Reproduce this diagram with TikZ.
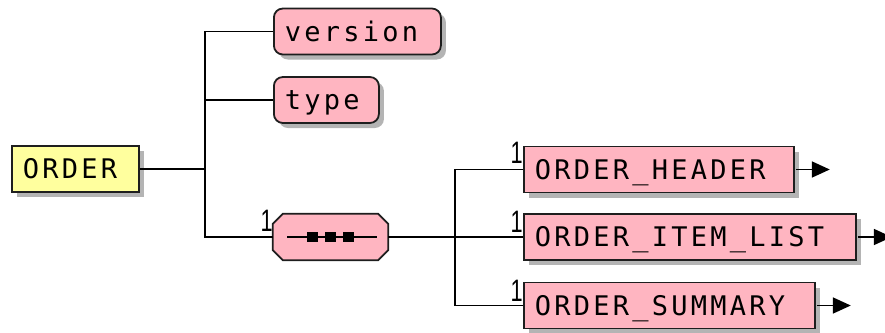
\documentclass[tikz,border=0pt]{standalone}
\usepackage{fontspec}
\usetikzlibrary{arrows.meta,shadows}
\newfontfamily\diagfont{DejaVu Sans Mono}[LetterSpace=12]
\newfontfamily\occfont{Liberation Sans}
\definecolor{pinkfill}{HTML}{FFB5C1}
\definecolor{yellowfill}{HTML}{FFFF9E}
\definecolor{edgecol}{HTML}{1E1E1E}
\definecolor{shadowcol}{HTML}{B4B4B4}
\tikzset{
  base/.style={draw=edgecol, line width=1.8pt, minimum height=46pt, inner xsep=11pt, inner ysep=0pt,
    align=left, text height=19.5pt, text depth=0pt,
    font=\diagfont\fontsize{27pt}{29pt}\selectfont,
    drop shadow={shadow xshift=5pt, shadow yshift=-5pt, fill=shadowcol, opacity=1}},
  elem/.style={base, fill=pinkfill},
  attr/.style={elem, rounded corners=9pt},
  root/.style={base, fill=yellowfill},
  seqbox/.style={minimum width=115pt, minimum height=46pt, inner sep=0pt},
  seqedge/.style={draw=edgecol, line width=1.8pt, fill=pinkfill},
  conn/.style={line width=1.8pt, black},
  occ/.style={inner sep=0pt, anchor=north east, font=\occfont\fontsize{31pt}{33pt}\selectfont},
  tip/.style={-{Triangle[length=18pt,width=16pt]}},
}
\newcommand{\occtext}{\scalebox{0.7}[1]{1}}
\begin{document}
\begin{tikzpicture}[x=1pt,y=-1pt]
\useasboundingbox (0,0) rectangle (885,332);
% nodes
\node[root, text width=105pt, anchor=west] (order) at (11,169) {ORDER};
\node[attr, text width=145pt, anchor=west] (version) at (273,31.5) {version};
\node[attr, text width=83pt, anchor=west] (type) at (273,100) {type};
\node[seqbox] (seq) at (330.5,237) {};
\node[elem, text width=248pt, anchor=west] (header) at (523,169.5) {ORDER\_HEADER};
\node[elem, text width=310pt, anchor=west] (item) at (523,237) {ORDER\_ITEM\_LIST};
\node[elem, text width=269pt, anchor=west] (summary) at (523,305.5) {ORDER\_SUMMARY};
% sequence compositor (octagon with shadow)
\begin{scope}[shift={(5,5)}]
\fill[shadowcol] ([xshift=10pt]seq.north west) -- ([xshift=-10pt]seq.north east)
  -- ([yshift=-10pt]seq.north east) -- ([yshift=10pt]seq.south east)
  -- ([xshift=-10pt]seq.south east) -- ([xshift=10pt]seq.south west)
  -- ([yshift=10pt]seq.south west) -- ([yshift=-10pt]seq.north west) -- cycle;
\end{scope}
\path[seqedge] ([xshift=10pt]seq.north west) -- ([xshift=-10pt]seq.north east)
  -- ([yshift=-10pt]seq.north east) -- ([yshift=10pt]seq.south east)
  -- ([xshift=-10pt]seq.south east) -- ([xshift=10pt]seq.south west)
  -- ([yshift=10pt]seq.south west) -- ([yshift=-10pt]seq.north west) -- cycle;
\draw[line width=1.5pt] ([xshift=-43.5pt]seq.center) -- ([xshift=46.5pt]seq.center);
\foreach \dx in {-18,0,18}
  \fill[black] ([xshift=\dx pt-5.5pt, yshift=-5pt]seq.center) rectangle ++(11,-10);
% occurrence labels
\node[occ] (o1) at (273,210) {\occtext};
\node[occ] (o2) at (523,142) {\occtext};
\node[occ] (o3) at (523,211) {\occtext};
\node[occ] (o4) at (523,280) {\occtext};
% connectors
\coordinate (j1) at (205,169);
\coordinate (j2) at (455,237);
\draw[conn] (order.east) -- (j1);
\draw[conn] (version.west) -| (j1) |- (seq.west);
\draw[conn] (type.west) -- (type.west -| j1);
\draw[conn] (seq.east) -- (j2);
\draw[conn] (header.west) -| (j2) |- (summary.west);
\draw[conn] (item.west) -- (j2);
% expand arrows
\coordinate (ha) at ([xshift=35pt]header.east);
\coordinate (ia) at ([xshift=35pt]item.east);
\coordinate (sa) at ([xshift=35pt]summary.east);
\draw[conn, tip] ([xshift=1pt]header.east) -- (ha);
\draw[conn, tip] ([xshift=1pt]item.east) -- (ia);
\draw[conn, tip] ([xshift=1pt]summary.east) -- (sa);
\end{tikzpicture}
\end{document}
